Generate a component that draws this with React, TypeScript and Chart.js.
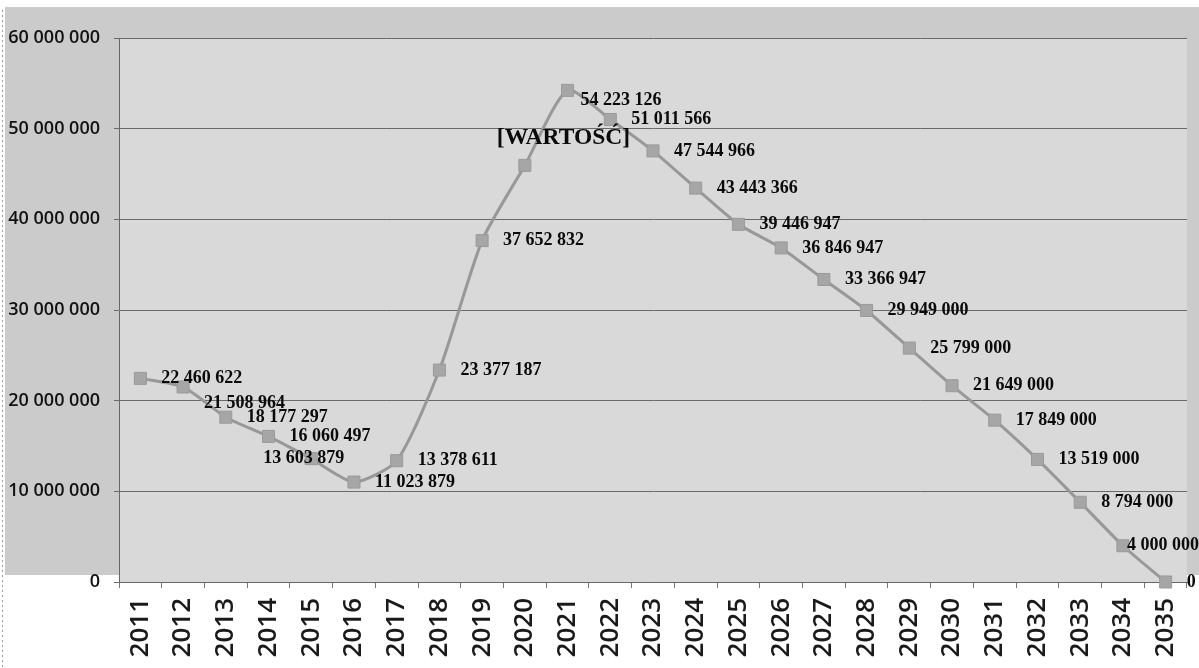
import React, { useEffect, useRef } from "react";
import { Chart, registerables } from "chart.js";

Chart.register(...registerables);

const years = [
  "2011", "2012", "2013", "2014", "2015", "2016", "2017", "2018", "2019", "2020",
  "2021", "2022", "2023", "2024", "2025", "2026", "2027", "2028", "2029", "2030",
  "2031", "2032", "2033", "2034", "2035",
];

const values = [
  22460622, 21508964, 18177297, 16060497, 13603879, 11023879, 13378611, 23377187, 37652832, 45950000,
  54223126, 51011566, 47544966, 43443366, 39446947, 36846947, 33366947, 29949000, 25799000, 21649000,
  17849000, 13519000, 8794000, 4000000, 0,
];

const pointLabels = [
  "22 460 622", "21 508 964", "18 177 297", "16 060 497", "13 603 879", "11 023 879", "13 378 611",
  "23 377 187", "37 652 832", "[WARTOŚĆ]", "54 223 126", "51 011 566", "47 544 966", "43 443 366",
  "39 446 947", "36 846 947", "33 366 947", "29 949 000", "25 799 000", "21 649 000", "17 849 000",
  "13 519 000", "8 794 000", "4 000 000", "0",
];

const yMin = 0;
const yMax = 60000000;
const yStep = 10000000;

const fmt = (v: number) => Math.round(v).toString().replace(/\B(?=(\d{3})+(?!\d))/g, " ");

// label placement tweaks (style only)
const labelAdjust: Record<string, { dx?: number; dy?: number; size?: number }> = {
  "2012": { dy: 16 },
  "2015": { dx: -48 },
  "2020": { dx: -28, dy: -27, size: 23.5 },
  "2021": { dx: 13, dy: 10 },
  "2034": { dx: 4 },
};

const bgPlugin = {
  id: "scanBg",
  beforeDraw(chart: any) {
    const { ctx, chartArea } = chart;
    ctx.save();
    ctx.fillStyle = "#ffffff";
    ctx.fillRect(0, 0, chart.width, chart.height);
    ctx.fillStyle = "#cbcbcb";
    ctx.fillRect(5, 7, chart.width - 5, 568);
    ctx.fillStyle = "#d9d9d9";
    ctx.fillRect(chartArea.left, chartArea.top, chartArea.right - chartArea.left, chartArea.bottom - chartArea.top);
    ctx.strokeStyle = "#9a9a9a";
    ctx.setLineDash([2, 3]);
    ctx.lineWidth = 1;
    ctx.beginPath();
    ctx.moveTo(2.5, 10);
    ctx.lineTo(2.5, chart.height);
    ctx.stroke();
    ctx.restore();
  },
};

const labelPlugin = {
  id: "pointLabels",
  afterDatasetsDraw(chart: any) {
    const ctx = chart.ctx;
    const meta = chart.getDatasetMeta(0);
    ctx.save();
    ctx.fillStyle = "#0a0a0a";
    ctx.textBaseline = "middle";
    ctx.textAlign = "left";
    meta.data.forEach((pt: any, i: number) => {
      const adj = labelAdjust[years[i]] || {};
      const dx = adj.dx ?? 21;
      const dy = adj.dy ?? 0;
      const size = adj.size ?? 18;
      ctx.font = `bold ${size}px "Liberation Serif", "Times New Roman", serif`;
      ctx.fillText(pointLabels[i], pt.x + dx, pt.y + dy);
    });
    ctx.restore();
  },
};

export default function App() {
  const canvasRef = useRef<HTMLCanvasElement | null>(null);

  useEffect(() => {
    document.body.style.margin = "0";
    const canvas = canvasRef.current;
    if (!canvas) return;
    const chart = new Chart(canvas, {
      type: "line",
      data: {
        labels: years,
        datasets: [
          {
            data: values,
            borderColor: "#989898",
            borderWidth: 3,
            backgroundColor: "#a4a4a4",
            pointStyle: "rect",
            pointRadius: 8.5,
            pointBorderColor: "#9a9a9a",
            pointBackgroundColor: "#a6a6a6",
            pointBorderWidth: 1,
            tension: 0.22,
            fill: false,
            clip: false as any,
          },
        ],
      },
      options: {
        responsive: false,
        animation: false,
        devicePixelRatio: 1,
        layout: { padding: { left: 0, right: 12, top: 38, bottom: 0 } },
        plugins: {
          legend: { display: false },
          tooltip: { enabled: false },
          title: { display: false },
        },
        scales: {
          x: {
            type: "category",
            offset: true,
            grid: {
              offset: true,
              drawOnChartArea: false,
              drawTicks: true,
              tickLength: 6,
              color: "#777777",
            },
            border: { display: true, color: "#666666", width: 1 },
            ticks: {
              minRotation: 90,
              maxRotation: 90,
              autoSkip: false,
              padding: 10,
              color: "#1a1a1a",
              font: { family: "'Open Sans', sans-serif", size: 26, weight: "600" as any },
            },
            afterFit: (scale: any) => {
              scale.height = 86;
              scale.paddingLeft = 0;
              scale.paddingRight = 0;
            },
          },
          y: {
            min: yMin,
            max: yMax,
            grid: {
              color: "#6a6a6a",
              lineWidth: 1,
              tickLength: 5,
              drawTicks: true,
            },
            border: { display: true, color: "#666666", width: 1 },
            ticks: {
              stepSize: yStep,
              padding: 14,
              color: "#111111",
              font: { family: "'Open Sans', sans-serif", size: 18, weight: "600" as any },
              callback: (v: any) => fmt(Number(v)),
            },
            afterFit: (scale: any) => {
              scale.width = 119;
            },
          },
        },
      },
      plugins: [bgPlugin, labelPlugin],
    });
    return () => chart.destroy();
  }, []);

  return (
    <div style={{ width: 1199, height: 668, position: "relative" }}>
      <canvas ref={canvasRef} width={1199} height={668} style={{ display: "block" }} />
    </div>
  );
}
